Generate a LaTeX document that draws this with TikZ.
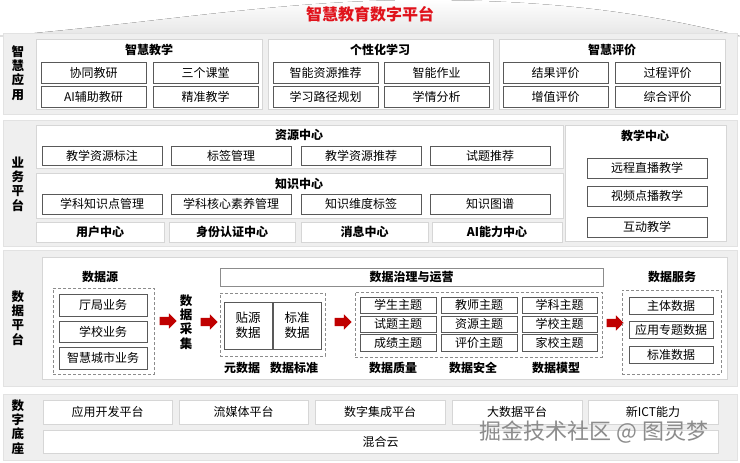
\documentclass[tikz,border=0pt]{standalone}
\usepackage{fontspec}
\setmainfont{Noto Sans CJK SC}
\usetikzlibrary{shapes.arrows}
\definecolor{secg}{HTML}{EFEFEF}
\definecolor{secb}{HTML}{E2E2E2}
\definecolor{panb}{HTML}{D6D6D6}
\definecolor{boxb}{HTML}{595959}
\definecolor{dashb}{HTML}{8C8C8C}
\definecolor{myred}{HTML}{C00000}
\definecolor{ttlred}{HTML}{E0121B}
\tikzset{
 base/.style={inner sep=0pt, outer sep=0pt, align=center, font=\fontsize{12}{14}\selectfont},
 sec/.style={base, fill=secg, draw=secb, line width=0.6pt},
 panel/.style={base, fill=white, draw=panb, line width=0.6pt},
 box/.style={base, fill=white, draw=boxb, line width=0.8pt},
 wbox/.style={base, fill=white, draw=panb, line width=0.6pt},
 hbox/.style={wbox, font=\fontsize{12}{14}\selectfont\bfseries},
 dbox/.style={base, draw=dashb, line width=0.7pt, dash pattern=on 3pt off 2pt},
 tbox/.style={box, font=\fontsize{12.5}{15}\selectfont},
 hdr/.style={base, font=\fontsize{12}{14}\selectfont\bfseries},
 vlab/.style={base, font=\fontsize{12.5}{14.3}\selectfont\bfseries},
 rarr/.style={single arrow, fill=myred, draw=none, inner sep=4pt, outer sep=0pt,
   minimum height=17pt, single arrow head extend=3.5pt},
}
\newcommand\bx[7][box]{\node[#1,minimum width={(#5-#3)*1pt},minimum height={(#6-#4)*1pt}] (#2) at ({(#3+#5)/2},{(#4+#6)/2}) {#7};}
\begin{document}
\begin{tikzpicture}[x=1pt,y=-1pt]
\useasboundingbox (0,0) rectangle (740,463);
\fill[white] (0,0) rectangle (740,463);
% swoosh
\fill[top color=white, bottom color=black!10] (0,36) .. controls (150,24) and (280,0) .. (420,0) .. controls (560,0) and (650,14) .. (740,36) -- cycle;
\node[base, font=\fontsize{16}{18}\selectfont\bfseries, text=ttlred] (title) at (370,14) {智慧教育数字平台};

% ===== Section 1
\bx[sec]{s1}{3}{33}{737}{114}{}
\node[vlab] (l1) at (18,73) {智\\慧\\应\\用};
\bx[panel]{p11}{36}{39}{262}{109}{}
\bx[panel]{p12}{268}{39}{493}{109}{}
\bx[panel]{p13}{499}{39}{725}{109}{}
\node[hdr] (h11) at (149,50) {智慧教学};
\node[hdr] (h12) at (380,50) {个性化学习};
\node[hdr] (h13) at (612,50) {智慧评价};
\bx{a1}{41}{62}{146}{83}{协同教研}
\bx{a2}{153}{62}{258}{83}{三个课堂}
\bx{a3}{41}{86}{146}{107}{AI辅助教研}
\bx{a4}{153}{86}{258}{107}{精准教学}
\bx{b1}{273}{62}{378}{83}{智能资源推荐}
\bx{b2}{384}{62}{489}{83}{智能作业}
\bx{b3}{273}{86}{378}{107}{学习路径规划}
\bx{b4}{384}{86}{489}{107}{学情分析}
\bx{c1}{503}{62}{608}{83}{结果评价}
\bx{c2}{615}{62}{720}{83}{过程评价}
\bx{c3}{503}{86}{608}{107}{增值评价}
\bx{c4}{615}{86}{720}{107}{综合评价}

% ===== Section 2
\bx[sec]{s2}{3}{120}{737}{246}{}
\node[vlab] (l2) at (18,184) {业\\务\\平\\台};
\bx[panel]{p21}{36}{125}{563}{168}{}
\node[hdr] (h21) at (299,135) {资源中心};
\bx{d1}{42}{146}{162}{165}{教学资源标注}
\bx{d2}{171}{146}{291}{165}{标签管理}
\bx{d3}{301}{146}{421}{165}{教学资源推荐}
\bx{d4}{430}{146}{550}{165}{试题推荐}
\bx[panel]{p22}{36}{173}{563}{218}{}
\node[hdr] (h22) at (299,184) {知识中心};
\bx{e1}{42}{194}{162}{214}{学科知识点管理}
\bx{e2}{171}{194}{291}{214}{学科核心素养管理}
\bx{e3}{301}{194}{421}{214}{知识维度标签}
\bx{e4}{430}{194}{550}{214}{知识图谱}
\bx[hbox]{f1}{36}{222}{164}{242}{用户中心}
\bx[hbox]{f2}{169}{222}{295}{242}{身份认证中心}
\bx[hbox]{f3}{301}{222}{428}{242}{消息中心}
\bx[hbox]{f4}{432}{222}{562}{242}{AI能力中心}
\bx[panel]{p23}{565}{125}{726}{241}{}
\node[hdr] (h23) at (645,136) {教学中心};
\bx{g1}{587}{158}{707}{178}{远程直播教学}
\bx{g2}{587}{186}{707}{206}{视频点播教学}
\bx{g3}{587}{217}{707}{237}{互动教学}

% ===== Section 3
\bx[sec]{s3}{3}{250}{737}{386}{}
\node[vlab] (l3) at (18,318) {数\\据\\平\\台};
\bx[panel]{p31}{42}{257}{727}{379}{}
\node[hdr] (h31) at (100,277) {数据源};
\bx[dbox]{ds}{53}{288}{154}{374}{}
\bx{k1}{59}{294}{147}{316}{厅局业务}
\bx{k2}{59}{321}{147}{342}{学校业务}
\bx{k3}{59}{347}{147}{369}{智慧城市业务}
\node[rarr] (r1) at (166,321) {};
\node[vlab] (cj) at (186,322) {数\\据\\采\\集};
\node[rarr] (r2) at (207,322) {};
\bx[base, draw=dashb, line width=0.7pt, font=\fontsize{12}{14}\selectfont\bfseries]{zl}{220}{268}{603}{286}{数据治理与运营}
\bx[dbox]{dm}{220}{293}{325}{356}{}
\bx[tbox]{m1}{224}{302}{272}{349}{贴源\\数据}
\bx[tbox]{m2}{273}{302}{321}{349}{标准\\数据}
\node[hdr] (t1) at (242,368) {元数据};
\bx[dbox]{dt}{355}{292}{602}{357}{}
\node[rarr] (r3) at (341,322) {};
\bx{n11}{360}{297}{436}{313}{学生主题}
\bx{n12}{441}{297}{517}{313}{教师主题}
\bx{n13}{522}{297}{597}{313}{学科主题}
\bx{n21}{360}{316}{436}{332}{试题主题}
\bx{n22}{441}{316}{517}{332}{资源主题}
\bx{n23}{522}{316}{597}{332}{学校主题}
\bx{n31}{360}{334}{436}{351}{成绩主题}
\bx{n32}{441}{334}{517}{351}{评价主题}
\bx{n33}{522}{334}{597}{351}{家校主题}
\node[hdr] (t2) at (294,368) {数据标准};
\node[hdr] (t3) at (393,368) {数据质量};
\node[hdr] (t4) at (473,368) {数据安全};
\node[hdr] (t5) at (556,368) {数据模型};
\node[rarr] (r4) at (613,323) {};
\node[hdr] (h32) at (672,277) {数据服务};
\bx[dbox]{dv}{622}{290}{721}{374}{}
\bx{v1}{629}{297}{713}{314}{主体数据}
\bx{v2}{629}{321}{713}{338}{应用专题数据}
\bx{v3}{629}{346}{713}{363}{标准数据}

% ===== Section 4
\bx[sec]{s4}{3}{394}{737}{460}{}
\node[vlab] (l4) at (18,427) {数\\字\\底\\座};
\bx[wbox]{w1}{43}{400}{172}{424}{应用开发平台}
\bx[wbox]{w2}{179}{400}{308}{424}{流媒体平台}
\bx[wbox]{w3}{315}{400}{445}{424}{数字集成平台}
\bx[wbox]{w4}{452}{400}{582}{424}{大数据平台}
\bx[wbox]{w5}{588}{400}{718}{424}{新ICT能力}
\bx[wbox]{w6}{43}{430}{718}{453}{混合云}
\node[base, font=\fontsize{22}{24}\selectfont, text=black!45] (wm) at (594,432) {掘金技术社区 @ 图灵梦};
\end{tikzpicture}
\end{document}
